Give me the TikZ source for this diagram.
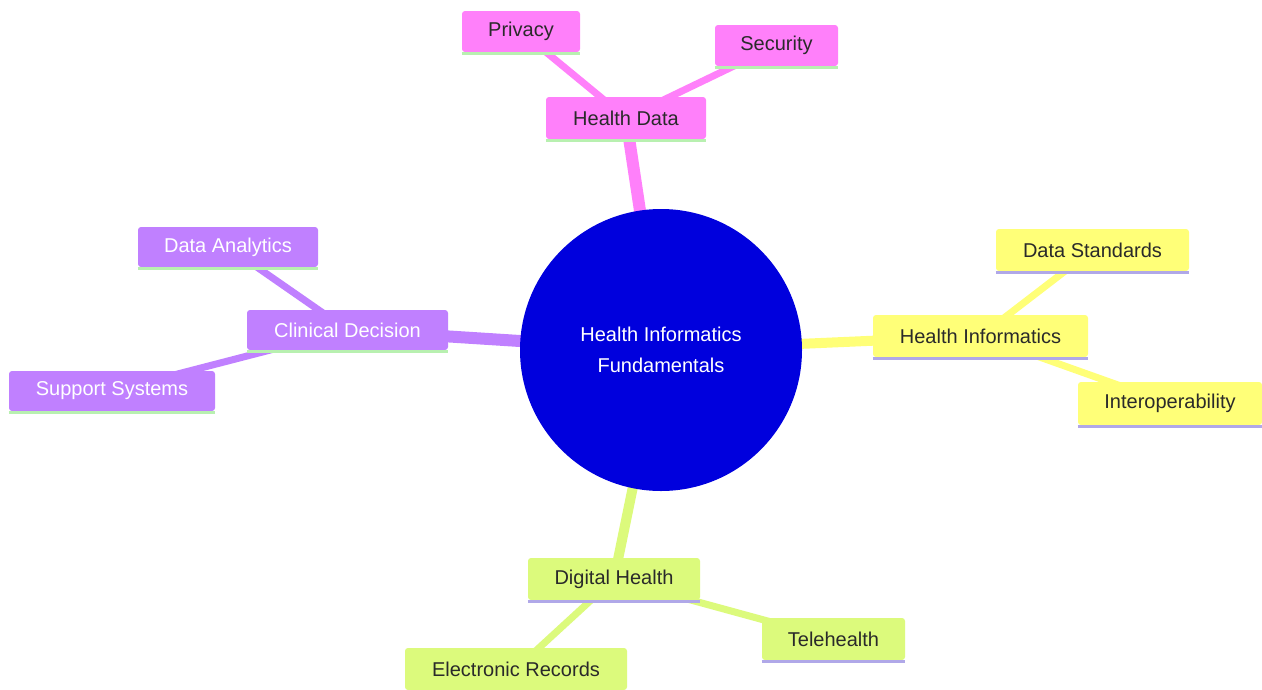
\documentclass[tikz,border=0pt]{standalone}
\usepackage{fontspec}
\setmainfont{Liberation Sans}
\usetikzlibrary{backgrounds}
\definecolor{cpink}{HTML}{FF80FA}
\definecolor{cpurple}{HTML}{C080FF}
\definecolor{cyellow}{HTML}{FFFF78}
\definecolor{cgreen}{HTML}{DCFA7C}
\definecolor{cblue}{HTML}{0000DD}
\definecolor{lgreen}{HTML}{B8F0B0}
\definecolor{lviolet}{HTML}{B0A8E8}
\definecolor{darktext}{HTML}{2A2A2A}
\tikzset{
  box/.style={rectangle, rounded corners=3pt, inner sep=0pt, font=\fontsize{20}{24}\selectfont, text=darktext},
  pinkbox/.style={box, fill=cpink},
  purplebox/.style={box, fill=cpurple, text=white},
  yellowbox/.style={box, fill=cyellow},
  greenbox/.style={box, fill=cgreen},
  mainedge/.style={line width=12pt},
  subedge/.style={line width=7pt},
  underline/.style={line width=2.5pt}
}
\begin{document}
\begin{tikzpicture}[x=1pt,y=-1pt]
\useasboundingbox (0,0) rectangle (1262,689);
% central
\node[circle, fill=cblue, minimum size=282pt, inner sep=0pt, text=white, align=center,
      font=\fontsize{20}{31}\selectfont] (c) at (661,350) {Health Informatics\\Fundamentals};
% health data
\node[pinkbox, minimum width=160pt, minimum height=42pt] (hd) at (626,118) {Health Data};
\node[pinkbox, minimum width=118pt, minimum height=41pt] (priv) at (521,31.5) {Privacy};
\node[pinkbox, minimum width=123pt, minimum height=41pt] (sec) at (776.5,45.5) {Security};
% health informatics
\node[yellowbox, minimum width=215pt, minimum height=42pt] (hi) at (980.5,336) {Health Informatics};
\node[yellowbox, minimum width=193pt, minimum height=42pt] (ds) at (1092.5,250) {Data Standards};
\node[yellowbox, minimum width=184pt, minimum height=43pt] (io) at (1170,403.5) {Interoperability};
% clinical decision
\node[purplebox, minimum width=201pt, minimum height=40pt] (cd) at (347.5,330) {Clinical Decision};
\node[purplebox, minimum width=180pt, minimum height=40pt] (da) at (228,247) {Data Analytics};
\node[purplebox, minimum width=206pt, minimum height=40pt] (ss) at (112,391) {Support Systems};
% digital health
\node[greenbox, minimum width=172pt, minimum height=42pt] (dh) at (614,579) {Digital Health};
\node[greenbox, minimum width=143pt, minimum height=42pt] (tele) at (833.5,639) {Telehealth};
\node[greenbox, minimum width=222pt, minimum height=42pt] (er) at (516,669) {Electronic Records};
% underlines
\foreach \n in {hd,priv,sec,cd,da,ss}
  \draw[underline, lgreen] ([yshift=-1.2pt]\n.south west) -- ([yshift=-1.2pt]\n.south east);
\foreach \n in {hi,ds,io,dh,tele}
  \draw[underline, lviolet] ([yshift=-1.2pt]\n.south west) -- ([yshift=-1.2pt]\n.south east);
% edges
\begin{scope}[on background layer]
  \fill[white] (0,0) rectangle (1262,689);
  \draw[mainedge, cpink] (c.center) -- (hd.center);
  \draw[subedge, cpink] (hd.center) -- (priv.center);
  \draw[subedge, cpink] (hd.center) -- (sec.center);
  \draw[mainedge, cyellow, line width=10pt] (c.center) -- (hi.center);
  \draw[subedge, cyellow] (hi.center) -- (ds.center);
  \draw[subedge, cyellow] (hi.center) -- (io.center);
  \draw[mainedge, cpurple] (c.center) -- (cd.center);
  \draw[subedge, cpurple] (cd.center) -- (da.center);
  \draw[subedge, cpurple] (cd.center) -- (ss.center);
  \draw[mainedge, cgreen, line width=10pt] (c.center) -- (dh.center);
  \draw[subedge, cgreen] (dh.center) -- (tele.center);
  \draw[subedge, cgreen] (dh.center) -- (er.center);
\end{scope}
\end{tikzpicture}
\end{document}
